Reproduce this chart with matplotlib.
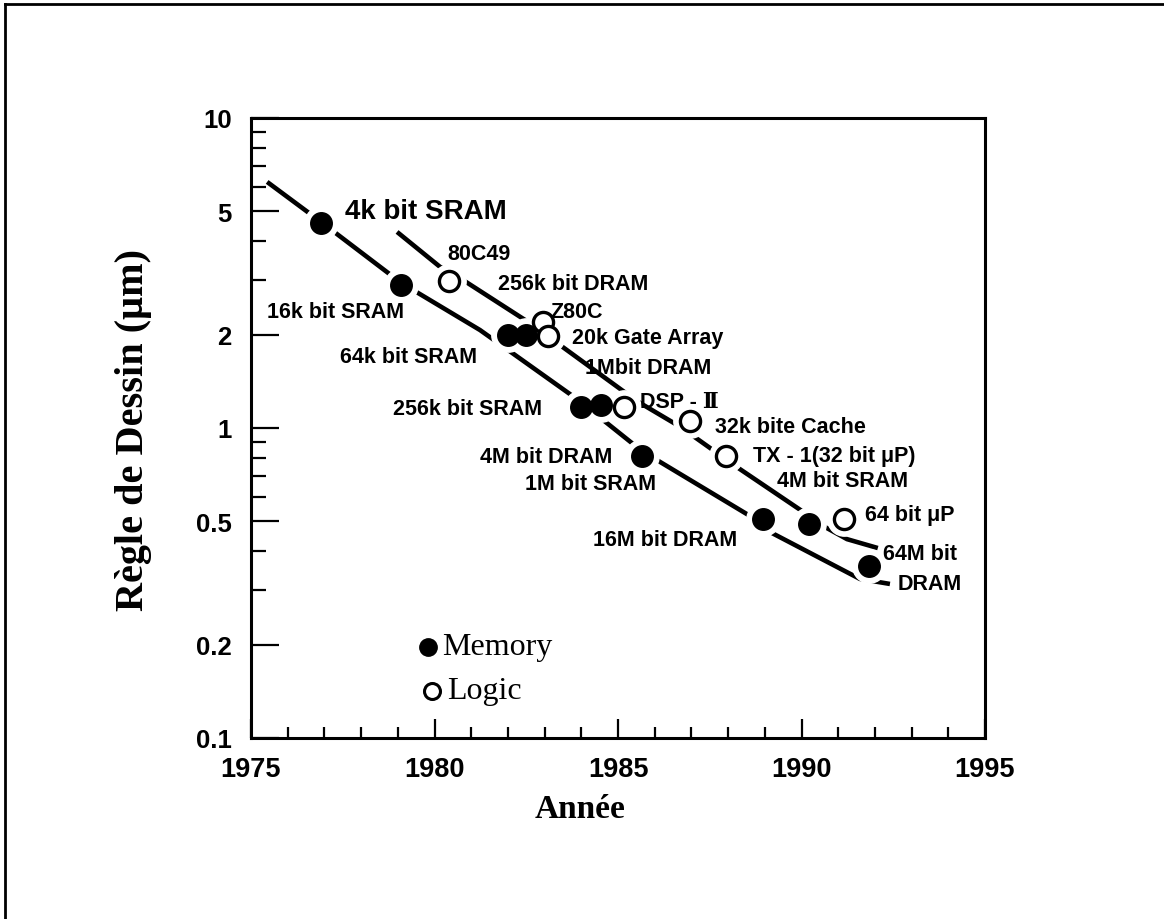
import matplotlib
matplotlib.use("Agg")
import matplotlib.pyplot as plt
import matplotlib.lines as mlines
from matplotlib.ticker import FixedLocator, FixedFormatter, NullFormatter

# ---------------- data ----------------
mem_years = [1976.9, 1979.1, 1982.0, 1982.5, 1984.0, 1984.55, 1985.65, 1988.95, 1990.2, 1991.85]
mem_vals = [4.6, 2.9, 2.0, 2.0, 1.17, 1.19, 0.81, 0.51, 0.49, 0.36]

logic_years = [1980.4, 1982.95, 1983.1, 1985.15, 1986.95, 1987.95, 1991.15]
logic_vals = [2.97, 2.2, 1.98, 1.17, 1.05, 0.81, 0.51]

# trend curves
mem_trend_years = [1975.44, 1976.91, 1979.09, 1981.24, 1983.88, 1985.65, 1988.60, 1989.14, 1991.59, 1992.41]
mem_trend_vals = [6.22, 4.62, 2.94, 2.07, 1.24, 0.843, 0.520, 0.462, 0.326, 0.314]

logic_trend_years = [1978.98, 1980.15, 1980.78, 1982.52, 1983.37, 1985.52, 1986.69, 1988.24, 1990.01, 1990.59, 1991.24, 1992.08]
logic_trend_vals = [4.29, 3.31, 3.00, 2.21, 1.87, 1.22, 1.01, 0.748, 0.540, 0.483, 0.438, 0.410]

x_major = [1975, 1980, 1985, 1990, 1995]
x_labels = ["1975", "1980", "1985", "1990", "1995"]
y_major = [0.1, 0.2, 0.5, 1, 2, 5, 10]
y_labels = ["0.1", "0.2", "0.5", "1", "2", "5", "10"]
y_minor = [0.3, 0.4, 0.6, 0.7, 0.8, 0.9, 3, 4, 6, 7, 8, 9]

labels = ["4k bit SRAM", "80C49", "256k bit DRAM", "16k bit SRAM", "Z80C",
          "20k Gate Array", "64k bit SRAM", "1Mbit DRAM", "DSP - \u2161",
          "256k bit SRAM", "32k bite Cache", "TX - 1(32 bit \u03bcP)",
          "4M bit DRAM", "4M bit SRAM", "1M bit SRAM", "64 bit \u03bcP",
          "16M bit DRAM", "64M bit", "DRAM"]

# ---------------- layout ----------------
W, H = 1164, 920
label_px = [(345, 212), (447, 255), (498, 284), (267, 313), (550, 313),
            (572, 339), (340, 358), (585, 368), (640, 403),
            (393, 410), (715, 428), (753, 457),
            (480, 458), (777, 482), (525, 485), (865, 516),
            (593, 540), (883, 555), (898, 584)]
label_size = [20] + [15.5] * (len(labels) - 1)

def fx(x):
    return x / W

def fy(y):
    return 1 - y / H

SANS = ["Liberation Sans", "DejaVu Serif", "DejaVu Sans"]
SERIF = ["Liberation Serif", "DejaVu Serif"]

fig = plt.figure(figsize=(W / 100, H / 100), dpi=100)
ax = fig.add_axes([fx(251), fy(739), (985 - 251) / W, (739 - 119) / H])
ax.set_yscale("log")
ax.set_xlim(1975, 1995)
ax.set_ylim(0.1, 10)

# trend lines
ax.plot(mem_trend_years, mem_trend_vals, color="black", lw=3.3, zorder=2, solid_capstyle="butt")
ax.plot(logic_trend_years, logic_trend_vals, color="black", lw=3.3, zorder=2, solid_capstyle="butt")

# white halos to break the lines around markers
ax.plot(mem_years, mem_vals, "o", ms=24, mfc="white", mec="white", zorder=3)
ax.plot(logic_years, logic_vals, "o", ms=24, mfc="white", mec="white", zorder=3)

# markers
ax.plot(mem_years, mem_vals, "o", ms=15.5, mfc="black", mec="black", zorder=4)
ax.plot(logic_years, logic_vals, "o", ms=14.5, mfc="white", mec="black", mew=2.4, zorder=5)

# axes styling
for s in ax.spines.values():
    s.set_linewidth(2.2)
ax.xaxis.set_major_locator(FixedLocator(x_major))
ax.xaxis.set_major_formatter(FixedFormatter(x_labels))
ax.xaxis.set_minor_locator(FixedLocator(list(range(1975, 1996))))
ax.xaxis.set_minor_formatter(NullFormatter())
ax.yaxis.set_major_locator(FixedLocator(y_major))
ax.yaxis.set_major_formatter(FixedFormatter(y_labels))
ax.yaxis.set_minor_locator(FixedLocator(y_minor))
ax.yaxis.set_minor_formatter(NullFormatter())
ax.tick_params(axis="x", which="major", direction="in", length=14, width=1.6, pad=13)
ax.tick_params(axis="x", which="minor", direction="in", length=8, width=1.6)
ax.tick_params(axis="y", which="major", direction="in", length=20, width=1.6, pad=14)
ax.tick_params(axis="y", which="minor", direction="in", length=11, width=1.6)
for t in ax.get_xticklabels():
    t.set_fontfamily(SANS)
    t.set_fontweight("bold")
    t.set_fontsize(19.5)
for t in ax.get_yticklabels():
    t.set_fontfamily(SANS)
    t.set_fontweight("bold")
    t.set_fontsize(18.5)

# annotations
for txt, (px, py), fs in zip(labels, label_px, label_size):
    fig.text(fx(px), fy(py), txt, ha="left", va="center", fontsize=fs,
             fontweight="bold", family=SANS)

# axis titles
fig.text(fx(133), fy(430), "R\u00e8gle de Dessin (\u03bcm)", rotation=90, ha="center", va="center",
         fontsize=29, fontweight="bold", family=SERIF)
fig.text(fx(580), fy(810), "Ann\u00e9e", ha="center", va="center",
         fontsize=24, fontweight="bold", family=SERIF)

# legend
fig.add_artist(mlines.Line2D([fx(428)], [fy(648)], marker="o", ms=12.5, mfc="black", mec="black", ls="none"))
fig.add_artist(mlines.Line2D([fx(432)], [fy(692)], marker="o", ms=11.5, mfc="white", mec="black", mew=2.2, ls="none"))
fig.text(fx(442), fy(648), "Memory", ha="left", va="center", fontsize=23, family=SERIF)
fig.text(fx(447), fy(692), "Logic", ha="left", va="center", fontsize=23, family=SERIF)

# outer frame (top and left edges)
fig.add_artist(mlines.Line2D([fx(5), 1], [fy(5), fy(5)], color="black", lw=2))
fig.add_artist(mlines.Line2D([fx(5), fx(5)], [0, fy(5)], color="black", lw=2))

fig.savefig("out.png", dpi=100)
